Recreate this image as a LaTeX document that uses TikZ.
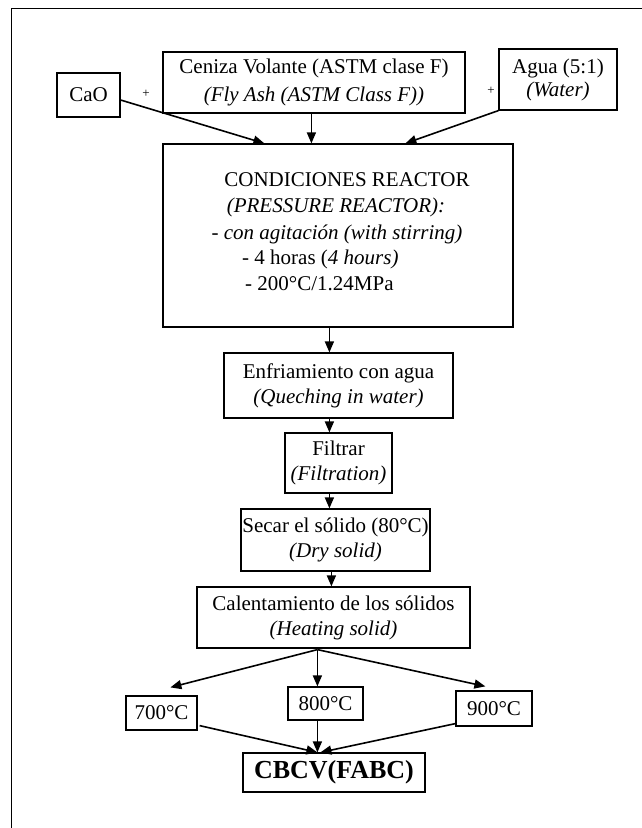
\documentclass[tikz,border=0pt]{standalone}
\usepackage{fontspec}
\setmainfont{Liberation Serif}
\usetikzlibrary{arrows.meta,calc}
\newcommand\myfs{\fontsize{21}{26}\selectfont}
\begin{document}
\begin{tikzpicture}[x=1pt,y=-1pt,
  box/.style={draw,line width=1.2pt,inner sep=0pt,align=center,font=\myfs},
  arr/.style={line width=1.6pt,-{Triangle[length=11pt,width=9pt]}},
  txt/.style={inner sep=0pt,font=\myfs,text height=14pt,text depth=4pt},
  plus/.style={inner sep=0pt,font=\fontsize{13}{13}\selectfont},
]
\useasboundingbox[fill=white] (0,0) rectangle (642,828);
\draw[line width=1pt] (11,828) -- (11,8) -- (642,8);

\node[box,minimum width=63pt,minimum height=44pt] (cao) at (88.5,95) {CaO};
\node[box,minimum width=302pt,minimum height=61pt] (ceniza) at (314,82.5)
  {Ceniza Volante (ASTM clase F)\\[2pt]\textit{(Fly Ash (ASTM Class F))}};
\node[box,minimum width=118pt,minimum height=61pt] (agua) at (558,79.5)
  {Agua (5:1)\\[-3pt]\textit{(Water)}};
\node[plus] (p1) at (146,94) {+};
\node[plus] (p2) at (491,91) {+};

\node[box,minimum width=350pt,minimum height=183pt] (reactor) at (338,235.5) {};
\node[txt] (r1) at (347,181) {CONDICIONES REACTOR};
\node[txt] (r2) at (336,207) {\textit{(PRESSURE REACTOR):}};
\node[txt] (r3) at (337,234) {\textit{- con agitación (with stirring)}};
\node[txt,anchor=west] (r4) at (242,259) {- 4 horas (\textit{4 hours)}};
\node[txt,anchor=west] (r5) at (245,285) {- 200°C/1.24MPa};

\node[box,minimum width=229pt,minimum height=65pt] (enfr) at (338.5,385.5)
  {Enfriamiento con agua\\[-1pt]\textit{(Queching in water)}};
\node[box,minimum width=107pt,minimum height=60pt] (filtrar) at (338.5,463)
  {Filtrar\\[-1pt]\textit{(Filtration)}};
\node[box,minimum width=189pt,minimum height=62pt] (secar) at (335.5,540)
  {Secar el sólido (80°C)\\[-1pt]\textit{(Dry solid)}};
\node[box,minimum width=273pt,minimum height=61pt] (calent) at (333.5,617.5)
  {Calentamiento de los sólidos\\[-1pt]\textit{(Heating solid)}};

\node[box,minimum width=71pt,minimum height=34pt] (t700) at (161.5,713) {700°C};
\node[box,minimum width=75pt,minimum height=33pt] (t800) at (325.5,703.5) {800°C};
\node[box,minimum width=76pt,minimum height=35pt] (t900) at (494,708.5) {900°C};
\node[box,minimum width=182pt,minimum height=39pt,font=\fontsize{26}{30}\selectfont\bfseries] (cbcv) at (334,772.5) {CBCV(FABC)};

% top arrows
\draw[arr] ($(cao.east)+(0,5)$) -- ($(reactor.north west)+(102,0)$);
\draw[arr] ($(ceniza.south west)+(149,0)$) coordinate (c1) -- (c1 |- reactor.north);
\draw[arr] (agua.south west) -- ($(reactor.north west)+(243,0)$);

% vertical chain
\draw[arr] ($(reactor.south west)+(167,0)$) coordinate (a1) -- (a1 |- enfr.north);
\draw[arr] ($(enfr.south west)+(106,0)$) coordinate (a2) -- (a2 |- filtrar.north);
\draw[arr] ($(filtrar.south west)+(45,0)$) coordinate (a3) -- (a3 |- secar.north);
\draw[arr] ($(secar.south west)+(91,0)$) coordinate (a4) -- (a4 |- calent.north);

% fan out
\coordinate (f0) at ($(calent.south west)+(121,1)$);
\draw[arr] (f0) -- ($(t700.north west)+(45,-8)$);
\draw[arr] (f0) -- (f0 |- t800.north);
\draw[arr] (f0) -- ($(t900.north west)+(30,-4)$);

% fan in
\draw[arr] ($(t700.south east)+(2,-5)$) -- ($(cbcv.north west)+(75,0)$);
\draw[arr] ($(t800.south west)+(30,0)$) coordinate (b2) -- (b2 |- cbcv.north);
\draw[arr] ($(t900.south west)+(0,-3)$) -- ($(cbcv.north west)+(78,0)$);
\end{tikzpicture}
\end{document}
